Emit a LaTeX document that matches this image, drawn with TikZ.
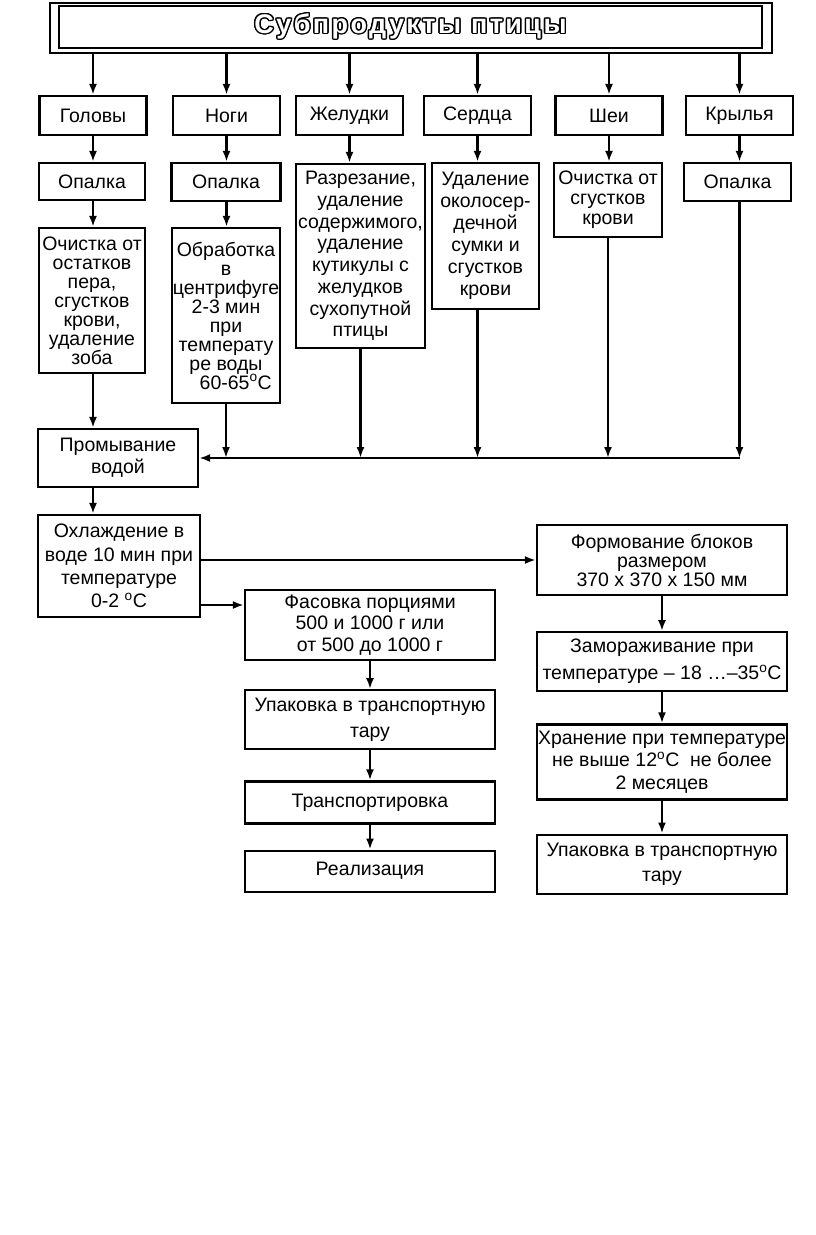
\documentclass[tikz,border=0pt]{standalone}
\usepackage{fontspec}
\setmainfont{Liberation Sans}
\usepackage{contour}
\usetikzlibrary{arrows.meta,positioning}
\tikzset{every picture/.style={
  >={Latex[length=11pt,width=8pt]}   % filled arrow tips
  }
}
\contourlength{1.4pt}
\newcommand{\degr}{\textsuperscript{o}C}
\newcommand{\fs}[1]{\fontsize{19.5}{#1}\selectfont}

\begin{document}
\begin{tikzpicture}[x=1pt,y=-1pt,
        line width=2.2pt,
        block/.style={
          draw,
          rectangle,
          align=center,
          inner sep=0.5pt,
          minimum width=107pt,
          font=\fs{21},
        },
        narrow/.style={font=\fs{19}},
        node distance=28pt]
      \useasboundingbox (0,0) rectangle (816,1235);
      % title with double frame
      \node[draw,minimum width=722pt,minimum height=50pt] (frame) at (411,28) {};
      \node[draw,minimum width=703pt,minimum height=42pt,
        font=\fontsize{27}{30}\selectfont\bfseries\addfontfeature{LetterSpace=9}]
        (title) at (410.5,27) {\contour{black}{\textcolor{white}{Субпродукты птицы}}};
      % kinds of offal
      \node[block,minimum height=39pt] (golovy) at (93,115.5) {Головы};
      \node[block,minimum height=39pt] (nogi) at (226.5,115.5) {Ноги};
      \node[block,minimum height=39pt] (zheludki) at (349.5,115.5) {Желудки};
      \node[block,minimum height=39pt] (serdca) at (477.5,115.5) {Сердца};
      \node[block,minimum height=39pt] (shei) at (609,115.5) {Шеи};
      \node[block,minimum height=39pt] (krylya) at (739.5,115.5) {Крылья};
      \foreach \n in {golovy,nogi,zheludki,serdca,shei,krylya}
        \draw[->] (frame.south -| \n) -- (\n);
      % first treatment
      \node[block,minimum width=106pt,minimum height=37pt] (opalkaG) at (92,181.5) {Опалка};
      \node[block,minimum width=109pt,minimum height=38pt] (opalkaN) at (226,182) {Опалка};
      \node[block,minimum width=129pt,minimum height=184pt,font=\fs{21.7}]
        (razrez) at (360.5,256) {Разрезание,\\ удаление\\ содержимого,\\ удаление\\ кутикулы с\\ желудков\\ сухопутной\\ птицы};
      \node[block,minimum height=146pt,font=\fs{22}]
        (udalenie) at (485.5,236) {Удаление\\ околосер-\\ дечной\\ сумки и\\ сгустков\\ крови};
      \node[block,minimum width=108pt,minimum height=74pt,font=\fs{20}] (ochistkaS) at (608,200)
        {Очистка от\\ сгустков\\ крови};
      \node[block,minimum height=38pt] (opalkaK) at (737.5,182) {Опалка};
      \draw[->] (golovy) -- (golovy |- opalkaG.north);
      \draw[->] (nogi) -- (nogi |- opalkaN.north);
      \draw[->] (zheludki) -- (zheludki |- razrez.north);
      \draw[->] (serdca) -- (serdca |- udalenie.north);
      \draw[->] (shei) -- (shei |- ochistkaS.north);
      \draw[->] (krylya) -- (krylya |- opalkaK.north);
      % second treatment
      \node[block,narrow,minimum width=106pt,minimum height=145pt]
        (ochistkaG) at (92,300.5) {Очистка от\\ остатков\\ пера,\\ сгустков\\ крови,\\ удаление\\ зоба};
      \node[block,narrow,minimum width=106pt,minimum height=175pt]
        (obrabotka) at (226,315.5) {Обработка\\ в\\ центрифуге\\ 2-3 мин\\ при\\ температу\\ ре воды\\ \hspace*{1em}60-65\degr};
      \draw[->] (golovy |- opalkaG.south) -- (golovy |- ochistkaG.north);
      \draw[->] (nogi |- opalkaN.south) -- (nogi |- obrabotka.north);
      % washing
      \node[block,minimum width=160pt,minimum height=58pt,font=\fs{22.3}] (promyv) at (118,458)
        {Промывание\\ водой};
      \coordinate (jr) at (740,458);
      \draw[->] (obrabotka) -- (obrabotka |- jr);
      \draw[->] (razrez) -- (razrez |- jr);
      \draw[->] (udalenie.south -| serdca) -- (serdca |- jr);
      \draw[->] (ochistkaS) -- (ochistkaS |- jr);
      \draw[->] (opalkaK.south -| krylya) -- (krylya |- jr);
      \draw[->] (jr) -- (promyv.east);
      \draw[->] (golovy |- ochistkaG.south) -- (golovy |- promyv.north);
      % cooling
      \node[block,minimum width=162pt,minimum height=102pt,font=\fs{23.3}] (ohlazh) at (119,566)
        {Охлаждение в\\ воде 10 мин при\\ температуре\\ 0-2 \degr};
      \draw[->] (golovy |- promyv.south) -- (golovy |- ohlazh.north);
      % chilled branch
      \node[block,minimum width=250pt,minimum height=70pt,font=\fs{21.7}]
        (fasovka) at (370,625) {Фасовка порциями\\ 500 и 1000 г или\\ от 500 до 1000 г};
      \node[block,minimum width=250pt,minimum height=59pt,font=\fs{26}] (upakL) [below=of fasovka]
        {Упаковка в транспортную\\ тару};
      \node[block,minimum width=250pt,minimum height=42pt] (transp) [below=30pt of upakL] {Транспортировка};
      \node[block,minimum width=250pt,minimum height=41pt] (realiz) [below=25pt of transp] {Реализация};
      \coordinate (fin) at ([yshift=20pt]fasovka.west);
      \draw[->] (fin -| ohlazh.east) -- (fin);
      \draw[->] (fasovka) -- (upakL);
      \draw[->] (upakL) -- (transp);
      \draw[->] (transp) -- (realiz);
      % frozen branch
      \node[block,minimum width=250pt,minimum height=70pt,font=\fs{19}]
        (formov) at (662,560) {Формование блоков\\ размером\\ 370 х 370 х 150 мм};
      \node[block,minimum width=250pt,minimum height=59pt,font=\fs{27}]
        (zamor) [below=35pt of formov] {Замораживание при\\ температуре – 18 \dots–35\degr};
      \node[block,minimum width=250pt,minimum height=75pt,font=\fs{22.5}]
        (hran) [below=31pt of zamor] {Хранение при температуре\\ не выше 12\degr\ \ не более\\ 2 месяцев};
      \node[block,minimum width=250pt,minimum height=59pt,font=\fs{25}] (upakR) [below=33pt of hran]
        {Упаковка в транспортную\\ тару};
      \draw[->] (formov.west -| ohlazh.east) -- (formov.west);
      \draw[->] (formov) -- (zamor);
      \draw[->] (zamor) -- (hran);
      \draw[->] (hran) -- (upakR);
      \end{tikzpicture}
\end{document}
